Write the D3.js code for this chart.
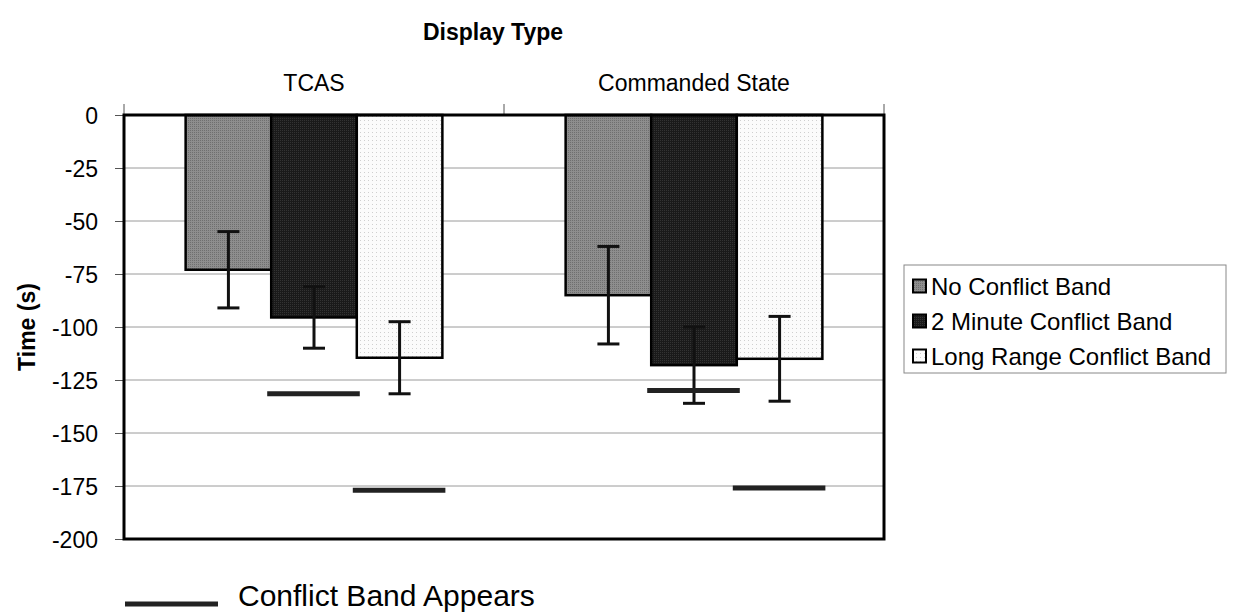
<!DOCTYPE html>
<html><head><meta charset="utf-8">
<script src="https://cdn.jsdelivr.net/npm/d3@7"></script>
<style>body{margin:0;background:#fff}svg{display:block;font-family:"Liberation Sans",Arial,sans-serif}</style>
</head><body><svg id="c" width="1235" height="613"></svg>
<script>
const categories = ["TCAS", "Commanded State"];
const series = ["No Conflict Band", "2 Minute Conflict Band", "Long Range Conflict Band"];
const meanTCAS = [-73, -95.5, -114.5];
const meanCommanded = [-85, -118, -115];
const errTCAS = [18, 14.5, 17];
const errCommanded = [23, 18, 20];
// conflict band appearance times (for 2 Minute and Long Range series)
const bandTCAS = [null, -131.5, -177];
const bandCommanded = [null, -130, -176];
const yTicks = [0, -25, -50, -75, -100, -125, -150, -175, -200];

const svg = d3.select("#c");
const L = 124, R = 884, T = 115, B = 539;
const FF = '"Liberation Sans",Arial,sans-serif';

const defs = svg.append("defs");
function pat(id, bg, dot, step, r){
  const p = defs.append("pattern").attr("id", id).attr("width", step).attr("height", step).attr("patternUnits", "userSpaceOnUse");
  p.append("rect").attr("width", step).attr("height", step).attr("fill", bg);
  p.append("rect").attr("x", 0).attr("y", 0).attr("width", r).attr("height", r).attr("fill", dot);
}
pat("p0", "#8e8e8e", "#6f6f6f", 2, 1);
pat("p1", "#1a1a1a", "#333", 2, 1);
pat("p2", "#fbfbfb", "#cfcfcf", 4, 1);

const x0 = d3.scaleBand().domain(categories).range([L, R]);
const x1 = d3.scaleBand().domain(series).range([0, x0.bandwidth()]).paddingInner(0).paddingOuter(0.72);
const y = d3.scaleLinear().domain([0, -200]).range([T, B]);

// gridlines
svg.append("g").selectAll("line").data(yTicks.slice(1, -1)).join("line")
  .attr("x1", L).attr("x2", R).attr("y1", d => y(d)).attr("y2", d => y(d))
  .attr("stroke", "#9a9a9a").attr("stroke-width", 1);

// y axis
const yAxis = svg.append("g").attr("transform", `translate(${L},0)`)
  .call(d3.axisLeft(y).tickValues(yTicks).tickSize(9).tickPadding(17).tickFormat(d => String(d)));
yAxis.select(".domain").remove();
yAxis.selectAll(".tick line").attr("stroke", "#555");
yAxis.selectAll("text").attr("font-size", 23).attr("fill", "#000").attr("dy", "0.38em")
  .attr("font-family", FF);

// top axis
const xAxis = svg.append("g").attr("transform", `translate(0,${T})`)
  .call(d3.axisTop(x0).tickSize(0).tickPadding(24));
xAxis.select(".domain").remove();
xAxis.selectAll("text").attr("font-size", 23).attr("fill", "#000").attr("font-family", FF);
const bounds = [L, L + x0.step(), R];
svg.append("g").selectAll("line").data(bounds).join("line")
  .attr("x1", d => d).attr("x2", d => d).attr("y1", T - 11).attr("y2", T)
  .attr("stroke", "#555").attr("stroke-width", 1);

const rows = [
  {cat: categories[0], mean: meanTCAS, err: errTCAS, band: bandTCAS},
  {cat: categories[1], mean: meanCommanded, err: errCommanded, band: bandCommanded}
];
const data = [];
rows.forEach(r => series.forEach((s, i) => data.push({cat: r.cat, s, i, v: r.mean[i], e: r.err[i], b: r.band[i]})));

// bars
svg.append("g").selectAll("rect").data(data).join("rect")
  .attr("x", d => x0(d.cat) + x1(d.s))
  .attr("y", d => y(0))
  .attr("width", x1.bandwidth())
  .attr("height", d => y(d.v) - y(0))
  .attr("fill", d => `url(#p${d.i})`)
  .attr("stroke", "#000").attr("stroke-width", 2.5);

// error bars
const eg = svg.append("g").attr("stroke", "#111").attr("stroke-width", 3);
data.forEach(d => {
  const cx = x0(d.cat) + x1(d.s) + x1.bandwidth() / 2;
  eg.append("line").attr("x1", cx).attr("x2", cx).attr("y1", y(d.v + d.e)).attr("y2", y(d.v - d.e));
  eg.append("line").attr("x1", cx - 11).attr("x2", cx + 11).attr("y1", y(d.v + d.e)).attr("y2", y(d.v + d.e));
  eg.append("line").attr("x1", cx - 11).attr("x2", cx + 11).attr("y1", y(d.v - d.e)).attr("y2", y(d.v - d.e));
});

// conflict band lines
svg.append("g").selectAll("line").data(data.filter(d => d.b != null)).join("line")
  .attr("x1", d => x0(d.cat) + x1(d.s) - 4)
  .attr("x2", d => x0(d.cat) + x1(d.s) + x1.bandwidth() + 3)
  .attr("y1", d => y(d.b)).attr("y2", d => y(d.b))
  .attr("stroke", "#222").attr("stroke-width", 5);

// plot border
svg.append("rect").attr("x", L).attr("y", T).attr("width", R - L).attr("height", B - T)
  .attr("fill", "none").attr("stroke", "#000").attr("stroke-width", 3);

// titles
svg.append("text").attr("x", 493).attr("y", 40).attr("text-anchor", "middle")
  .attr("font-size", 23).attr("font-weight", "bold").text("Display Type");
svg.append("text").attr("transform", `translate(35,${(T + B) / 2}) rotate(-90)`)
  .attr("text-anchor", "middle").attr("font-size", 23).attr("font-weight", "bold").text("Time (s)");

// legend
const lg = svg.append("g").attr("transform", "translate(904,265)");
lg.append("rect").attr("width", 322).attr("height", 108).attr("fill", "#fff").attr("stroke", "#888").attr("stroke-width", 1);
series.forEach((s, i) => {
  const yy = 21 + i * 35;
  lg.append("rect").attr("x", 9).attr("y", yy - 6.5).attr("width", 13).attr("height", 13)
    .attr("fill", `url(#p${i})`).attr("stroke", "#000").attr("stroke-width", 2);
  lg.append("text").attr("x", 27).attr("y", yy).attr("dy", "0.36em").attr("font-size", 24).text(s);
});

// bottom legend
svg.append("line").attr("x1", 125).attr("x2", 218).attr("y1", 604).attr("y2", 604).attr("stroke", "#222").attr("stroke-width", 5);
svg.append("text").attr("x", 238).attr("y", 606).attr("font-size", 30).text("Conflict Band Appears");
</script></body></html>
